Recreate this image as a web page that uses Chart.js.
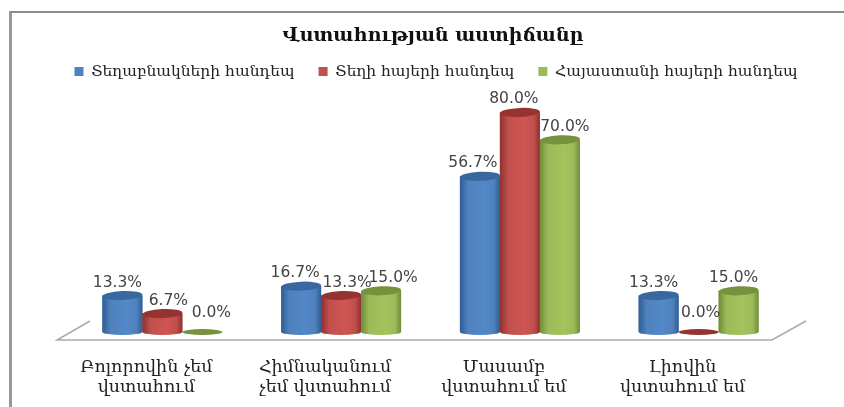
<!DOCTYPE html>
<html>
<head>
<meta charset="utf-8">
<style>
  html, body { margin: 0; padding: 0; background: #fff; overflow: hidden; }
  #wrap { position: relative; width: 844px; height: 407px; overflow: hidden; }
  #frame { position: absolute; left: 9px; top: 11px; width: 840px; height: 400px; border-left: 3px solid #999; border-top: 2px solid #8c8c8c; box-sizing: border-box; }
  canvas { position: absolute; left: 0; top: 0; }
</style>
<script src="https://cdn.jsdelivr.net/npm/chart.js@4"></script>
</head>
<body>
<div id="wrap">
  <div id="frame"></div>
  <canvas id="c" width="844" height="407"></canvas>
</div>
<script>
const categories = [
  ['Բոլորովին չեմ', 'վստահում'],
  ['Հիմնականում', 'չեմ վստահում'],
  ['Մասամբ', 'վստահում եմ'],
  ['Լիովին', 'վստահում եմ']
];
const locals = [13.3, 16.7, 56.7, 13.3];
const localArmenians = [6.7, 13.3, 80.0, 0.0];
const armeniaArmenians = [0.0, 15.0, 70.0, 15.0];

const F = "'DejaVu Serif',serif";
const LABEL_F = "'DejaVu Sans',sans-serif";

// label nudges, the original labels were hand placed
const nudgeX = [[-5, 6, 9], [-6, 6, 12], [-7, -6, 5], [-5, 2, -5]];

const COLORS = [
  { flat: '#4f81bd', edge: '#2f5d94', mid: '#5288c8', top: '#38689f' },
  { flat: '#c0504d', edge: '#8e302e', mid: '#cf5552', top: '#963230' },
  { flat: '#9bbb59', edge: '#6f8b39', mid: '#a2c45c', top: '#76923c' }
];

// turns the library's flat bars into cylinders
const cylinders = {
  id: 'cylinders',
  afterDatasetsDraw(chart) {
    const c = chart.ctx;
    chart.data.datasets.forEach((ds, i) => {
      const col = COLORS[i];
      chart.getDatasetMeta(i).data.forEach(bar => {
        const rx = bar.width / 2;
        const l = bar.x - rx, r = bar.x + rx;
        const g = c.createLinearGradient(l, 0, r, 0);
        g.addColorStop(0, col.edge);
        g.addColorStop(0.2, col.flat);
        g.addColorStop(0.6, col.mid);
        g.addColorStop(0.85, col.flat);
        g.addColorStop(1, col.edge);
        c.save();
        if (bar.base - bar.y > 1) {
          c.fillStyle = g;
          c.beginPath();
          c.moveTo(l, bar.y);
          c.lineTo(l, bar.base);
          c.ellipse(bar.x, bar.base, rx, 3, 0, Math.PI, 0, true);
          c.lineTo(r, bar.y);
          c.closePath();
          c.fill();
          c.fillStyle = col.top;
          c.beginPath();
          c.ellipse(bar.x, bar.y, rx, 4.5, -0.04, 0, Math.PI * 2);
          c.fill();
        } else {
          c.fillStyle = col.top;
          c.beginPath();
          c.ellipse(bar.x, bar.y, rx, 3, 0, 0, Math.PI * 2);
          c.fill();
        }
        c.restore();
      });
    });
  }
};

const floor = {
  id: 'floor',
  beforeDatasetsDraw(chart) {
    const c = chart.ctx, a = chart.chartArea;
    const y = a.bottom + 8;
    c.save();
    c.strokeStyle = '#aaa';
    c.lineWidth = 1.5;
    c.beginPath();
    c.moveTo(a.left - 16 + 33, y - 19);
    c.lineTo(a.left - 16, y);
    c.lineTo(a.right - 16, y);
    c.lineTo(a.right - 16 + 34, y - 19);
    c.stroke();
    c.restore();
  }
};

const valueLabels = {
  id: 'valueLabels',
  afterDraw(chart) {
    const c = chart.ctx;
    c.save();
    c.font = `15.5px ${LABEL_F}`;
    c.fillStyle = '#444';
    c.textAlign = 'center';
    c.textBaseline = 'middle';
    chart.data.datasets.forEach((ds, i) => {
      chart.getDatasetMeta(i).data.forEach((bar, j) => {
        const v = ds.data[j];
        const dy = v === 0 ? -19 : -13;
        c.fillText(v.toFixed(1) + '%', bar.x + nudgeX[j][i], bar.y + dy);
      });
    });
    c.restore();
  }
};

// title and legend sit a little off the plot centre in the original
const headerShift = {
  id: 'headerShift',
  afterLayout(chart) {
    chart.titleBlock.left += 11; chart.titleBlock.right += 11;
    chart.legend.left += 14; chart.legend.right += 14;
    chart.legend.top -= 8; chart.legend.bottom -= 8;
  }
};

const hiddenAxis = (position, width) => ({
  position,
  min: 0,
  max: 85.5,
  ticks: { display: false },
  grid: { display: false },
  border: { display: false },
  afterFit: s => { s.width = width; }
});

new Chart(document.getElementById('c'), {
  type: 'bar',
  data: {
    labels: categories,
    datasets: [
      { label: 'Տեղաբնակների հանդեպ', data: locals, backgroundColor: COLORS[0].flat, borderWidth: 0 },
      { label: 'Տեղի հայերի հանդեպ', data: localArmenians, backgroundColor: COLORS[1].flat, borderWidth: 0 },
      { label: 'Հայաստանի հայերի հանդեպ', data: armeniaArmenians, backgroundColor: COLORS[2].flat, borderWidth: 0 }
    ]
  },
  options: {
    responsive: false,
    animation: false,
    layout: { padding: { left: 12, right: 12, top: 25, bottom: 8 } },
    categoryPercentage: 0.671,
    barPercentage: 1,
    plugins: {
      title: { display: true, text: 'Վստահության աստիճանը', color: '#111', font: { family: F, size: 19, weight: 'bold' }, padding: { top: 0, bottom: 0 } },
      legend: {
        labels: { color: '#222', font: { family: F, size: 15.5 }, boxWidth: 9, boxHeight: 9, padding: 24 }
      },
      tooltip: { enabled: false }
    },
    scales: {
      x: {
        grid: { display: false },
        border: { display: false },
        afterFit: s => { s.height = 67; },
        ticks: { color: '#222', font: { family: F, size: 17.5, lineHeight: 1.15 }, padding: 17, labelOffset: -16, maxRotation: 0, autoSkip: false }
      },
      y: hiddenAxis('left', 61),
      yRight: hiddenAxis('right', 44)
    }
  },
  plugins: [headerShift, floor, cylinders, valueLabels]
});
</script>
</body>
</html>
